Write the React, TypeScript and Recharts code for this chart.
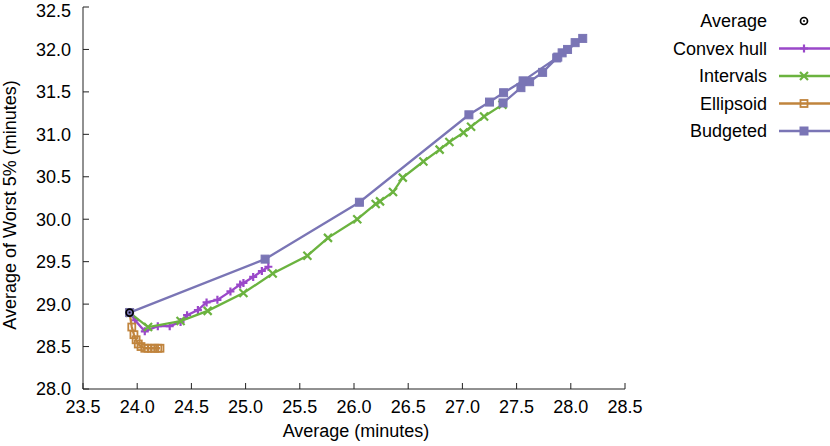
import React from "react";
import {
  Label,
  Legend,
  Scatter,
  ScatterChart,
  XAxis,
  YAxis,
} from "recharts";

const FONT = '"Liberation Sans", Arial, Helvetica, sans-serif';
const AXIS_COLOR = "#222";

const xTicks = [23.5, 24.0, 24.5, 25.0, 25.5, 26.0, 26.5, 27.0, 27.5, 28.0, 28.5];
const yTicks = [28.0, 28.5, 29.0, 29.5, 30.0, 30.5, 31.0, 31.5, 32.0, 32.5];

const average: [number, number][] = [[23.93, 28.9]];

const convexHull: [number, number][] = [
  [23.93, 28.9], [23.98, 28.81], [24.07, 28.68], [24.19, 28.74], [24.3, 28.74],
  [24.4, 28.79], [24.46, 28.87], [24.56, 28.93], [24.64, 29.02], [24.74, 29.05],
  [24.86, 29.15], [24.95, 29.23], [24.98, 29.25], [25.07, 29.32], [25.15, 29.39],
  [25.21, 29.44],
];

const intervals: [number, number][] = [
  [23.93, 28.9], [24.1, 28.73], [24.4, 28.8], [24.65, 28.92], [24.98, 29.13],
  [25.25, 29.36], [25.57, 29.57], [25.76, 29.78], [26.03, 30.0], [26.2, 30.18],
  [26.24, 30.21], [26.36, 30.32], [26.45, 30.49], [26.64, 30.68], [26.79, 30.82],
  [26.88, 30.91], [27.01, 31.02], [27.08, 31.09], [27.2, 31.21], [27.37, 31.35],
];

const ellipsoid: [number, number][] = [
  [23.93, 28.9], [23.95, 28.73], [23.97, 28.64], [23.99, 28.58], [24.01, 28.53],
  [24.035, 28.5], [24.07, 28.48], [24.1, 28.48], [24.13, 28.48], [24.16, 28.48],
  [24.19, 28.48], [24.21, 28.48],
];

const budgeted: [number, number][] = [
  [23.93, 28.9], [25.18, 29.53], [26.05, 30.2], [27.06, 31.23], [27.25, 31.38],
  [27.38, 31.49], [27.56, 31.63], [27.87, 31.9], [27.92, 31.96], [27.97, 32.0],
  [28.04, 32.08], [28.11, 32.13], [27.88, 31.91], [27.74, 31.73], [27.62, 31.62],
  [27.54, 31.55], [27.375, 31.37],
];

const toPoints = (pairs: [number, number][]) => pairs.map(([x, y]) => ({ x, y }));

type MarkerKind = "ring" | "plus" | "cross" | "openSquare" | "square";

function Marker({ kind, cx, cy, color }: { kind: MarkerKind; cx: number; cy: number; color: string }) {
  if (cx == null || cy == null) return null;
  switch (kind) {
    case "ring":
      return (
        <g>
          <circle cx={cx} cy={cy} r={3.5} fill="none" stroke={color} strokeWidth={1.7} />
          <circle cx={cx} cy={cy} r={1} fill={color} />
        </g>
      );
    case "plus":
      return (
        <path d={`M${cx - 4},${cy}H${cx + 4}M${cx},${cy - 4}V${cy + 4}`} stroke={color} strokeWidth={2.2} />
      );
    case "cross":
      return (
        <path
          d={`M${cx - 4},${cy - 4}L${cx + 4},${cy + 4}M${cx - 4},${cy + 4}L${cx + 4},${cy - 4}`}
          stroke={color}
          strokeWidth={2.2}
        />
      );
    case "openSquare":
      return <rect x={cx - 3.5} y={cy - 3.5} width={7} height={7} fill="none" stroke={color} strokeWidth={1.8} />;
    default:
      return <rect x={cx - 4} y={cy - 4} width={8} height={8} fill={color} stroke={color} strokeWidth={1} />;
  }
}

const series = [
  { name: "Convex hull", data: convexHull, color: "#9a48c9", marker: "plus" as MarkerKind },
  { name: "Intervals", data: intervals, color: "#6bb33f", marker: "cross" as MarkerKind },
  { name: "Ellipsoid", data: ellipsoid, color: "#c0843d", marker: "openSquare" as MarkerKind },
  { name: "Budgeted", data: budgeted, color: "#7a75b5", marker: "square" as MarkerKind },
];

function LegendBox() {
  const rows = [{ name: "Average", color: "#000", marker: "ring" as MarkerKind, line: false }].concat(
    series.map((s) => ({ name: s.name, color: s.color, marker: s.marker, line: true }))
  );
  return (
    <svg width={230} height={150} style={{ display: "block" }}>
      {rows.map((r, i) => {
        const y = 14 + i * 27.5;
        return (
          <g key={r.name}>
            <text
              x={147}
              y={y}
              textAnchor="end"
              dominantBaseline="central"
              fontFamily={FONT}
              fontSize={18}
              fill="#000"
            >
              {r.name}
            </text>
            {r.line ? <line x1={159} x2={230} y1={y} y2={y} stroke={r.color} strokeWidth={2.3} /> : null}
            <Marker kind={r.marker} cx={184} cy={y} color={r.color} />
          </g>
        );
      })}
    </svg>
  );
}

export default function App() {
  return (
    <div style={{ position: "absolute", left: 0, top: 0, width: 830, height: 446, background: "#fff" }}>
      <ScatterChart width={830} height={446} margin={{ top: 7, right: 205, bottom: 0, left: 0 }}>
        <XAxis
          xAxisId="b"
          type="number"
          dataKey="x"
          domain={[23.5, 28.5]}
          ticks={xTicks}
          tickFormatter={(v: number) => v.toFixed(1)}
          height={57}
          tickSize={-6}
          tickMargin={17}
          stroke={AXIS_COLOR}
          tick={{ fill: "#000", fontSize: 18, fontFamily: FONT }}
          allowDataOverflow
        >
          <Label
            content={() => (
              <text x={356} y={437} textAnchor="middle" fontFamily={FONT} fontSize={18} fill="#000">
                Average (minutes)
              </text>
            )}
          />
        </XAxis>
        <XAxis
          xAxisId="t"
          orientation="top"
          type="number"
          dataKey="x"
          domain={[23.5, 28.5]}
          ticks={xTicks}
          height={0}
          tickSize={-6}
          tick={false}
          stroke={AXIS_COLOR}
          allowDataOverflow
        />
        <YAxis
          yAxisId="l"
          type="number"
          dataKey="y"
          domain={[28, 32.5]}
          ticks={yTicks}
          tickFormatter={(v: number) => v.toFixed(1)}
          width={83}
          tickSize={-6}
          tickMargin={18}
          stroke={AXIS_COLOR}
          tick={{ fill: "#000", fontSize: 18, fontFamily: FONT }}
          allowDataOverflow
        >
          <Label
            content={() => (
              <text
                x={16}
                y={205}
                transform="rotate(-90 16 205)"
                textAnchor="middle"
                fontFamily={FONT}
                fontSize={18}
                fill="#000"
              >
                Average of Worst 5% (minutes)
              </text>
            )}
          />
        </YAxis>
        <YAxis
          yAxisId="r"
          orientation="right"
          type="number"
          dataKey="y"
          domain={[28, 32.5]}
          ticks={yTicks}
          width={0}
          tickSize={-6}
          tick={false}
          stroke={AXIS_COLOR}
          allowDataOverflow
        />
        <Legend
          layout="horizontal"
          verticalAlign="middle"
          align="center"
          wrapperStyle={{ left: 620, top: 7, width: 230 }}
          content={() => <LegendBox />}
        />
        {series.map((s) => (
          <Scatter
            key={s.name}
            name={s.name}
            xAxisId="b"
            yAxisId="l"
            data={toPoints(s.data)}
            line={{ stroke: s.color, strokeWidth: 2.3 }}
            lineType="joint"
            shape={(p: any) => <Marker kind={s.marker} cx={p.cx} cy={p.cy} color={s.color} />}
            isAnimationActive={false}
          />
        ))}
        <Scatter
          name="Average"
          xAxisId="b"
          yAxisId="l"
          data={toPoints(average)}
          shape={(p: any) => <Marker kind="ring" cx={p.cx} cy={p.cy} color="#000" />}
          isAnimationActive={false}
        />
      </ScatterChart>
    </div>
  );
}
